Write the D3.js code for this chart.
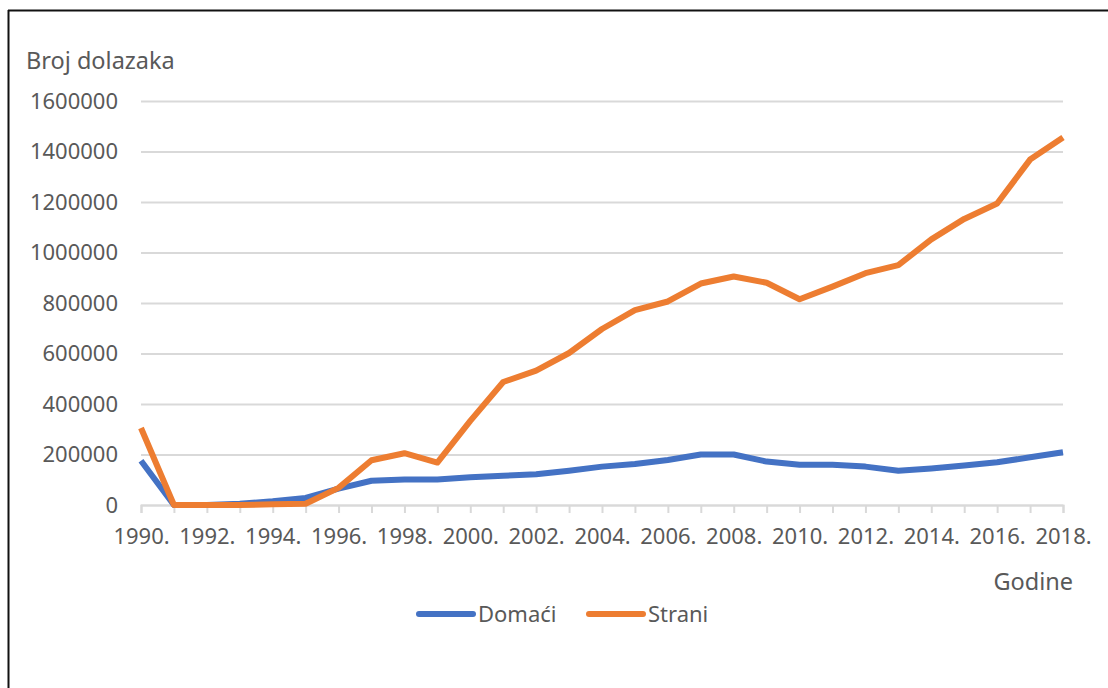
<!DOCTYPE html>
<html>
<head>
<meta charset="utf-8">
<script src="https://cdn.jsdelivr.net/npm/d3@7"></script>
<style>
  body { margin: 0; background: #fff; }
  text { font-family: "Noto Sans", "Open Sans", sans-serif; fill: #595959; }
</style>
</head>
<body>
<div id="chart"></div>
<script>
// years on the x axis
const years = d3.range(1990, 2019);

// Domaći (domestic arrivals)
const domaci = [175000, 0, 0, 5000, 15000, 28000, 65000, 96000, 101000, 101000,
  110000, 116000, 122000, 136000, 152000, 162000, 178000, 200000, 200000, 172000,
  159000, 159000, 152000, 136000, 145000, 156000, 169000, 189000, 209000];

// Strani (foreign arrivals)
const strani = [305000, 0, 0, 0, 3000, 5000, 68000, 177000, 205000, 168000,
  333000, 487000, 532000, 602000, 697000, 772000, 806000, 877000, 905000, 880000,
  815000, 865000, 918000, 950000, 1052000, 1133000, 1194000, 1368000, 1455000];

const yTicks = [0, 200000, 400000, 600000, 800000, 1000000, 1200000, 1400000, 1600000];
const seriesNames = ["Domaći", "Strani"];
const seriesColors = ["#4472C4", "#ED7D31"];

const W = 1108, H = 688;
const plotLeft = 141, plotRight = 1063, plotTop = 101, plotBottom = 505;

const svg = d3.select("#chart").append("svg")
  .attr("width", W)
  .attr("height", H);

// frame (only top and left edges are visible in the crop)
svg.append("line").attr("x1", 8).attr("x2", W).attr("y1", 10.5).attr("y2", 10.5)
  .attr("stroke", "#111").attr("stroke-width", 2);
svg.append("line").attr("x1", 8.5).attr("x2", 8.5).attr("y1", 10).attr("y2", H)
  .attr("stroke", "#111").attr("stroke-width", 2);

const x = d3.scaleLinear().domain([1990, 2018]).range([plotLeft, plotRight]);
const y = d3.scaleLinear().domain([0, 1600000]).range([plotBottom, plotTop]);

// y axis with gridlines
const yAxis = svg.append("g")
  .attr("transform", `translate(${plotLeft},0)`)
  .call(d3.axisLeft(y).tickValues(yTicks).tickSize(-(plotRight - plotLeft)).tickPadding(23)
    .tickFormat(d3.format("d")));
yAxis.select(".domain").remove();
yAxis.selectAll(".tick line").attr("stroke", "#d9d9d9").attr("stroke-width", 2);
yAxis.selectAll(".tick text").style("font-size", "22px").style("fill", "#595959");

// x axis
const xAxis = svg.append("g")
  .attr("transform", `translate(0,${plotBottom})`)
  .call(d3.axisBottom(x).tickValues(years).tickSize(8).tickPadding(15)
    .tickFormat(d => d % 2 === 0 ? d + "." : ""));
xAxis.select(".domain").attr("stroke", "#d9d9d9").attr("stroke-width", 2);
xAxis.selectAll(".tick line").attr("stroke", "#d9d9d9").attr("stroke-width", 2);
xAxis.selectAll(".tick text").style("font-size", "22px").style("fill", "#595959");

// titles
svg.append("text").attr("x", 26).attr("y", 69)
  .style("font-size", "23.5px").text("Broj dolazaka");
svg.append("text").attr("x", 1073).attr("y", 590).attr("text-anchor", "end")
  .style("font-size", "23.5px").text("Godine");

// lines
const line = d3.line().x((d, i) => x(years[i])).y(d => y(d));
[domaci, strani].forEach((s, k) => {
  svg.append("path")
    .datum(s)
    .attr("fill", "none")
    .attr("stroke", seriesColors[k])
    .attr("stroke-width", 6)
    .attr("stroke-linejoin", "round")
    .attr("d", line);
});

// legend
const legendX = [416, 586];
seriesNames.forEach((name, k) => {
  const g = svg.append("g").attr("transform", `translate(${legendX[k]},614)`);
  g.append("line").attr("x1", 3).attr("x2", 57).attr("y1", 0).attr("y2", 0)
    .attr("stroke", seriesColors[k]).attr("stroke-width", 6).attr("stroke-linecap", "round");
  g.append("text").attr("x", 62).attr("y", 8).style("font-size", "22px").text(name);
});
</script>
</body>
</html>
